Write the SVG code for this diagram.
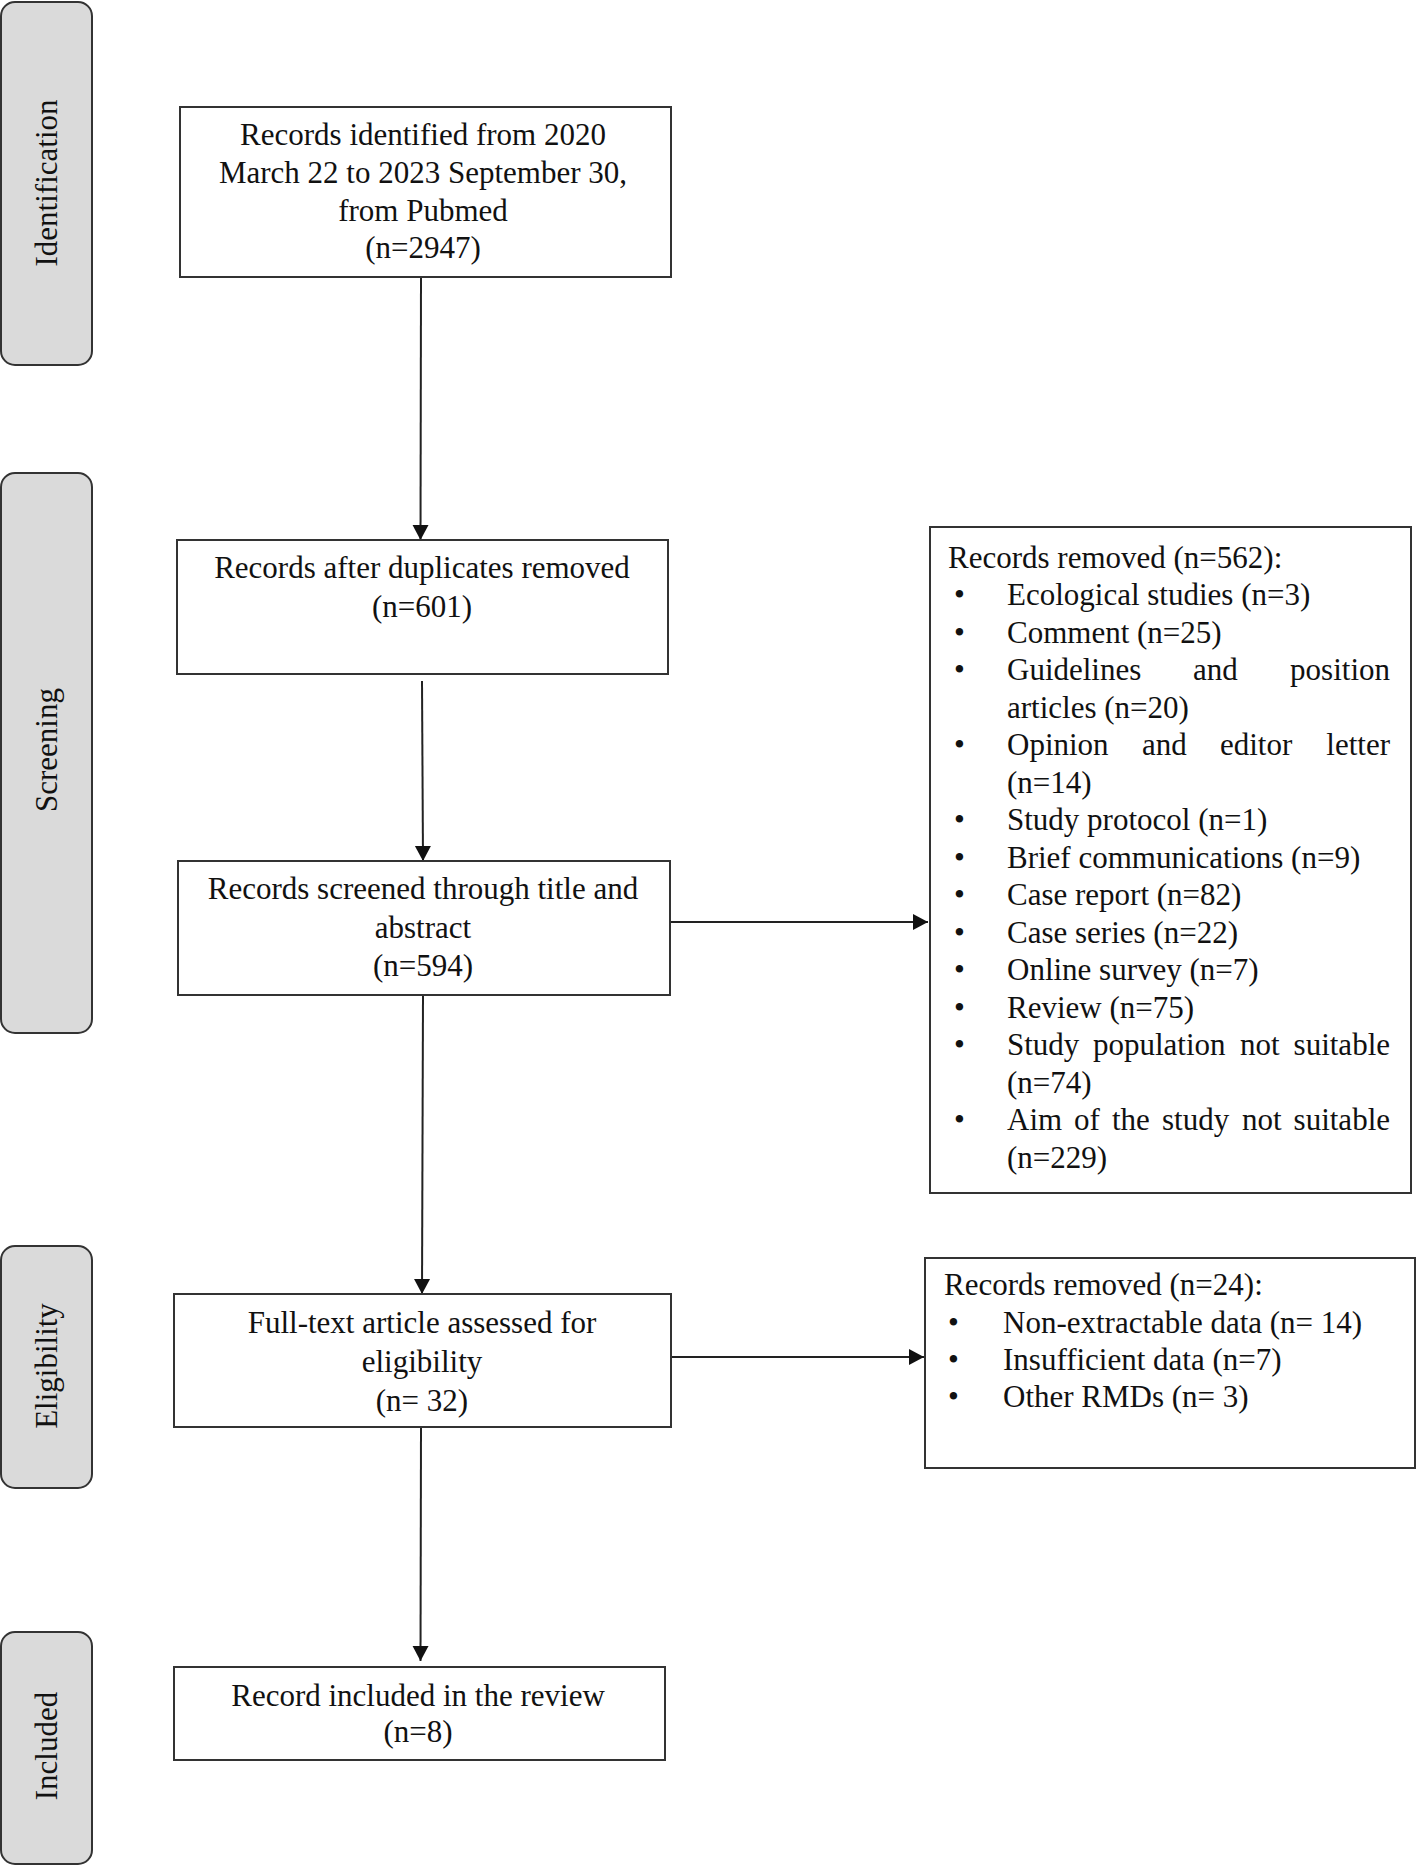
<svg xmlns="http://www.w3.org/2000/svg" width="1417" height="1867" viewBox="0 0 1417 1867">
<defs>
<style>
.t{font-family:"Liberation Serif","Times New Roman",serif;font-size:31px;fill:#111}
.c{text-anchor:middle}
.box{fill:#fff;stroke:#333;stroke-width:2}
.side{fill:#dadada;stroke:#333;stroke-width:2}
.ln{stroke:#222;stroke-width:2;fill:none}
</style>
<marker id="ah" markerUnits="userSpaceOnUse" markerWidth="18" markerHeight="18" viewBox="0 0 18 18" refX="15" refY="9" orient="auto">
<path d="M0,1 L15,9 L0,17 Z" fill="#111"/>
</marker>
</defs>
<g id="stage-identification">
<rect class="side" x="1" y="2" width="91" height="363" rx="14"/>
<text class="t c" transform="translate(57,183) rotate(-90)">Identification</text>
</g>
<g id="stage-screening">
<rect class="side" x="1" y="473" width="91" height="560" rx="14"/>
<text class="t c" transform="translate(57,750) rotate(-90)">Screening</text>
</g>
<g id="stage-eligibility">
<rect class="side" x="1" y="1246" width="91" height="242" rx="14"/>
<text class="t c" transform="translate(57,1366) rotate(-90)">Eligibility</text>
</g>
<g id="stage-included">
<rect class="side" x="1" y="1632" width="91" height="232" rx="14"/>
<text class="t c" transform="translate(57,1746) rotate(-90)">Included</text>
</g>
<g id="connectors">
<line class="ln" x1="421" y1="277" x2="420.5" y2="540" marker-end="url(#ah)"/>
<line class="ln" x1="422" y1="681" x2="423" y2="861" marker-end="url(#ah)"/>
<line class="ln" x1="423" y1="995" x2="422" y2="1294" marker-end="url(#ah)"/>
<line class="ln" x1="421" y1="1427" x2="420.5" y2="1661" marker-end="url(#ah)"/>
<line class="ln" x1="670" y1="922" x2="928" y2="922" marker-end="url(#ah)"/>
<line class="ln" x1="671" y1="1357" x2="924" y2="1357" marker-end="url(#ah)"/>
</g>
<g id="n1">
<rect class="box" x="180" y="107" width="491" height="170"/>
<text class="t c" x="423" y="145">Records identified from 2020</text>
<text class="t c" x="423" y="183">March 22 to 2023 September 30,</text>
<text class="t c" x="423" y="221">from Pubmed</text>
<text class="t c" x="423" y="258">(n=2947)</text>
</g>
<g id="n2">
<rect class="box" x="177" y="540" width="491" height="134"/>
<text class="t c" x="422" y="578">Records after duplicates removed</text>
<text class="t c" x="422" y="617">(n=601)</text>
</g>
<g id="n3">
<rect class="box" x="178" y="861" width="492" height="134"/>
<text class="t c" x="423" y="899">Records screened through title and</text>
<text class="t c" x="423" y="938">abstract</text>
<text class="t c" x="423" y="976">(n=594)</text>
</g>
<g id="n4">
<rect class="box" x="174" y="1294" width="497" height="133"/>
<text class="t c" x="422" y="1333">Full-text article assessed for</text>
<text class="t c" x="422" y="1372">eligibility</text>
<text class="t c" x="422" y="1411">(n= 32)</text>
</g>
<g id="n5">
<rect class="box" x="174" y="1667" width="491" height="93"/>
<text class="t c" x="418" y="1706">Record included in the review</text>
<text class="t c" x="418" y="1742">(n=8)</text>
</g>
<g id="excluded-screening">
<rect class="box" x="930" y="527" width="481" height="666"/>
<text class="t" x="948" y="567.5">Records removed (n=562):</text>
<text class="t" x="954" y="605">•</text><text class="t" x="1007" y="605">Ecological studies (n=3)</text>
<text class="t" x="954" y="642.5">•</text><text class="t" x="1007" y="642.5">Comment (n=25)</text>
<text class="t" x="954" y="680">•</text><text class="t" y="680"><tspan x="1007">Guidelines</tspan><tspan x="1193">and</tspan><tspan x="1390" text-anchor="end">position</tspan></text>
<text class="t" x="1007" y="717.5">articles (n=20)</text>
<text class="t" x="954" y="755">•</text><text class="t" y="755"><tspan x="1007">Opinion</tspan><tspan x="1142">and</tspan><tspan x="1220">editor</tspan><tspan x="1390" text-anchor="end">letter</tspan></text>
<text class="t" x="1007" y="792.5">(n=14)</text>
<text class="t" x="954" y="830">•</text><text class="t" x="1007" y="830">Study protocol (n=1)</text>
<text class="t" x="954" y="867.5">•</text><text class="t" x="1007" y="867.5">Brief communications (n=9)</text>
<text class="t" x="954" y="905">•</text><text class="t" x="1007" y="905">Case report (n=82)</text>
<text class="t" x="954" y="942.5">•</text><text class="t" x="1007" y="942.5">Case series (n=22)</text>
<text class="t" x="954" y="980">•</text><text class="t" x="1007" y="980">Online survey (n=7)</text>
<text class="t" x="954" y="1017.5">•</text><text class="t" x="1007" y="1017.5">Review (n=75)</text>
<text class="t" x="954" y="1055">•</text><text class="t" y="1055"><tspan x="1007">Study</tspan><tspan x="1093">population</tspan><tspan x="1240">not</tspan><tspan x="1390" text-anchor="end">suitable</tspan></text>
<text class="t" x="1007" y="1092.5">(n=74)</text>
<text class="t" x="954" y="1130">•</text><text class="t" y="1130"><tspan x="1007">Aim</tspan><tspan x="1074">of</tspan><tspan x="1112">the</tspan><tspan x="1162">study</tspan><tspan x="1242">not</tspan><tspan x="1390" text-anchor="end">suitable</tspan></text>
<text class="t" x="1007" y="1167.5">(n=229)</text>
</g>
<g id="excluded-eligibility">
<rect class="box" x="925" y="1258" width="490" height="210"/>
<text class="t" x="944" y="1295">Records removed (n=24):</text>
<text class="t" x="948" y="1333">•</text><text class="t" x="1003" y="1333">Non-extractable data (n= 14)</text>
<text class="t" x="948" y="1370">•</text><text class="t" x="1003" y="1370">Insufficient data (n=7)</text>
<text class="t" x="948" y="1407">•</text><text class="t" x="1003" y="1407">Other RMDs (n= 3)</text>
</g>
</svg>
